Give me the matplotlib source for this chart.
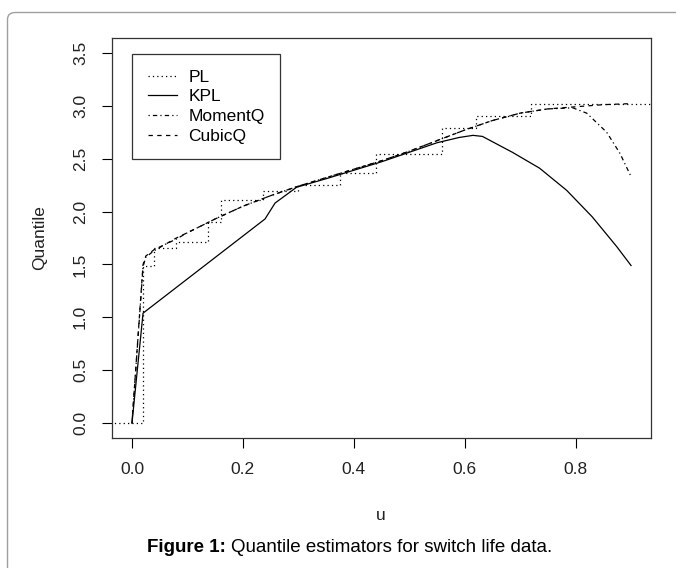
import numpy as np
import matplotlib.pyplot as plt
from matplotlib.patches import FancyBboxPatch

plt.rcParams['font.family'] = ['Liberation Sans', 'DejaVu Sans']

# PL: empirical step quantile (breakpoints in u, level after each break)
pl_breaks = [-0.04, 0.02, 0.04, 0.08, 0.137, 0.16, 0.236, 0.30, 0.375, 0.44, 0.56, 0.62, 0.72]
pl_levels = [0.0, 1.49, 1.66, 1.71, 1.90, 2.11, 2.19, 2.25, 2.36, 2.54, 2.79, 2.90, 3.02]
pl_end = 0.96

# KPL (solid)
kpl_u = [0.0, 0.02, 0.24, 0.258, 0.297, 0.35, 0.40, 0.45, 0.50, 0.55, 0.59, 0.615,
         0.632, 0.686, 0.735, 0.784, 0.83, 0.874, 0.90]
kpl_q = [0.0, 1.04, 1.93, 2.08, 2.23, 2.31, 2.39, 2.47, 2.56, 2.65, 2.70, 2.72,
         2.71, 2.56, 2.41, 2.20, 1.95, 1.67, 1.49]

# CubicQ (dashed)
cub_u = [0.0, 0.02, 0.025, 0.04, 0.06, 0.08, 0.10, 0.15, 0.20, 0.25, 0.30, 0.35, 0.40, 0.45,
         0.50, 0.55, 0.60, 0.65, 0.70, 0.75, 0.80, 0.85, 0.90]
cub_q = [0.0, 1.50, 1.58, 1.64, 1.69, 1.75, 1.80, 1.93, 2.05, 2.15, 2.24, 2.32, 2.40, 2.48,
         2.57, 2.67, 2.77, 2.86, 2.93, 2.97, 2.99, 3.01, 3.02]

# MomentQ (dot-dash), drops away at the upper end
mom_u = [0.0, 0.02, 0.025, 0.04, 0.06, 0.08, 0.10, 0.15, 0.20, 0.25, 0.30, 0.35, 0.40, 0.45,
         0.50, 0.55, 0.60, 0.65, 0.70, 0.75, 0.795, 0.82, 0.856, 0.88, 0.90]
mom_q = [0.0, 1.48, 1.57, 1.63, 1.69, 1.74, 1.80, 1.93, 2.05, 2.15, 2.24, 2.32, 2.40, 2.48,
         2.57, 2.67, 2.77, 2.86, 2.93, 2.97, 2.98, 2.93, 2.75, 2.55, 2.33]

W, H = 676, 568
fig = plt.figure(figsize=(W / 100, H / 100), dpi=100)
ax = fig.add_axes([112 / W, 1 - 438 / H, (651 - 112) / W, (438 - 38) / H])

# step function for PL
sx, sy = [], []
for i, (b, lv) in enumerate(zip(pl_breaks, pl_levels)):
    nxt = pl_breaks[i + 1] if i + 1 < len(pl_breaks) else pl_end
    sx += [b, nxt]
    sy += [lv, lv]

lw = 0.9
ax.plot(sx, sy, color='black', lw=lw, linestyle=(0, (1, 2.5)), label='PL')
ax.plot(kpl_u, kpl_q, color='black', lw=lw, linestyle='-', label='KPL')
ax.plot(mom_u, mom_q, color='black', lw=lw, linestyle=(0, (1, 2.5, 3.5, 2.5)), label='MomentQ')
ax.plot(cub_u, cub_q, color='black', lw=lw, linestyle=(0, (3.5, 3.5)), label='CubicQ')

ax.set_xlim(-0.036, 0.936)
ax.set_ylim(-0.14, 3.64)
ax.set_xticks(np.arange(0, 0.81, 0.2))
ax.set_xticklabels(['0.0', '0.2', '0.4', '0.6', '0.8'])
ax.set_yticks(np.arange(0, 3.51, 0.5))
ax.set_yticklabels(['0.0', '0.5', '1.0', '1.5', '2.0', '2.5', '3.0', '3.5'], rotation=90, va='center')
ax.tick_params(direction='out', length=7.2, width=0.8, labelsize=12.5, pad=10, colors='black')
ax.tick_params(axis='both', labelcolor='#222222')
for s in ax.spines.values():
    s.set_linewidth(0.9)
    s.set_color('#333333')

leg = ax.legend(loc='upper left', bbox_to_anchor=(0.037, 0.96), fontsize=12.5, frameon=True,
                fancybox=False, edgecolor='black', handlelength=1.7, handletextpad=0.65,
                labelspacing=0.26, borderpad=0.9, borderaxespad=0)
leg.get_frame().set_linewidth(0.9)

fig.text(381 / W, 1 - 515 / H, 'u', ha='center', va='center', fontsize=12.5, color='#222222')
fig.text(40 / W, 1 - 238 / H, 'Quantile', ha='center', va='center', rotation=90, fontsize=12.5,
         color='#222222')

# caption
cap_y = 1 - 548 / H
t1 = fig.text(147 / W, cap_y, 'Figure 1:', ha='left', va='center', fontsize=13.5, fontweight='bold')
fig.canvas.draw()
bb = t1.get_window_extent()
fig.text((bb.x1 + 5) / W, cap_y, 'Quantile estimators for switch life data.', ha='left',
         va='center', fontsize=13.5)

# rounded page frame
frame = FancyBboxPatch((7.5 / W, -0.1), 1.2, 1 - 12.5 / H + 0.1,
                       boxstyle='round,pad=0,rounding_size=0.012', transform=fig.transFigure,
                       facecolor='none', edgecolor='#a0a0a0', lw=1.0)
fig.patches.append(frame)

fig.savefig('out.png', dpi=100)
